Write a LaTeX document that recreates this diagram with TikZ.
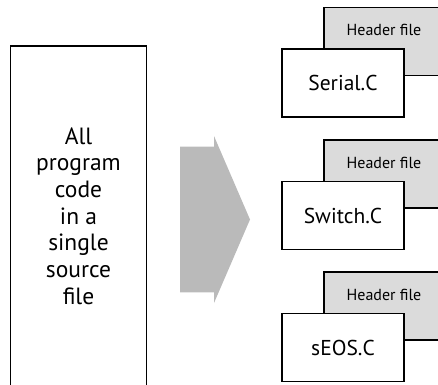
\documentclass[tikz,border=0pt]{standalone}
\usepackage{fontspec}
\setmainfont{PT Sans}
\usepackage{tikz}
\usetikzlibrary{calc}

\begin{document}
\begin{tikzpicture}[x=1pt, y=-1pt,
    filebox/.style={draw, line width=1.8pt, fill=white, minimum width=122pt,
      minimum height=68pt, inner sep=0pt, font=\fontsize{21.5}{25}\selectfont},
    headbox/.style={draw, line width=1.8pt, fill=black!14, minimum width=122pt,
      minimum height=68pt, inner sep=0pt},
    headtext/.style={font=\fontsize{16}{19}\selectfont}]
  \useasboundingbox (0,0) rectangle (438,384);
  \clip (0,0) rectangle (438,384);

  % single source file
  \node[draw, line width=1.8pt, minimum width=136pt, minimum height=340pt,
    align=center, inner sep=0pt, font=\fontsize{23.5}{26.7}\selectfont]
    (src) at (78.5,216) {All\\program\\code\\in a\\single\\source\\file};

  % gray arrow
  \coordinate (A) at (180,146.7);
  \coordinate (B) at (214,146.7);
  \coordinate (C) at (214,136);
  \coordinate (D) at (250,219.5);
  \coordinate (E) at (214,303);
  \coordinate (F) at (214,292.3);
  \coordinate (G) at (180,292.3);
  \fill[black!27] (A) -- (B) -- (C) -- (D) -- (E) -- (F) -- (G) -- cycle;

  % split files
  \foreach \name/\y [count=\i] in {Serial.C/83, Switch.C/215.5, sEOS.C/347.5} {
    \node[headbox] (h\i) at (385,\y-41.5) {};
    \node[headtext] (ht\i) at (384,\y-53) {Header file};
    \node[filebox] (f\i) at (343,\y) {\name};
  }
\end{tikzpicture}
\end{document}
